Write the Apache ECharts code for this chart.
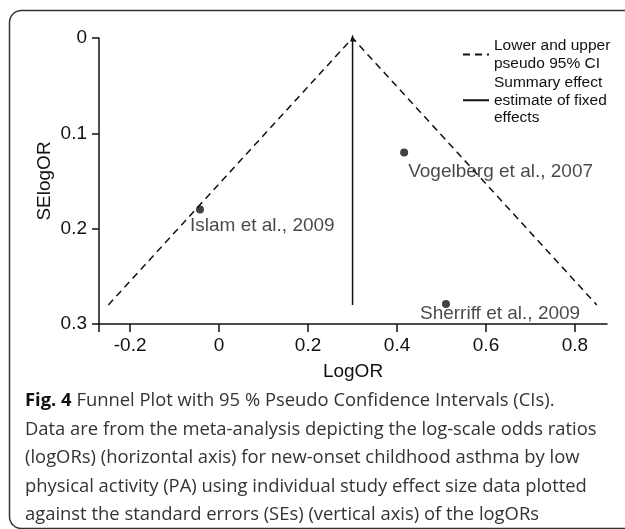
<!DOCTYPE html>
<html>
<head>
<meta charset="utf-8">
<script src="https://cdn.jsdelivr.net/npm/echarts@6/dist/echarts.min.js"></script>
<style>
    html, body { margin: 0; padding: 0; background: #fff; }
    #chart { width: 625px; height: 529px; }
</style>
</head>
<body>
<div id="chart"></div>
<script>
// 数据
const studies = ['Islam et al., 2009', 'Vogelberg et al., 2007', 'Sherriff et al., 2009']
const logOR = [-0.043, 0.416, 0.51]
const seLogOR = [0.18, 0.12, 0.279]
const summaryEffect = 0.3
const maxSE = 0.28
const ciLower = [-0.249, 0.3]   // [logOR at maxSE, logOR at apex]
const ciUpper = [0.849, 0.3]
const xMin = -0.27
const xMax = 0.872
const xTicks = [-0.2, 0, 0.2, 0.4, 0.6, 0.8]
const captionLines = [
    'Funnel Plot with 95 % Pseudo Confidence Intervals (CIs).',
    'Data are from the meta-analysis depicting the log-scale odds ratios',
    '(logORs) (horizontal axis) for new-onset childhood asthma by low',
    'physical activity (PA) using individual study effect size data plotted',
    'against the standard errors (SEs) (vertical axis) of the logORs'
]

// label offsets relative to the dot
const labelPos = [[-6, 20], [8, 23], [-22, 14]]

const ink = '#111'
const font = 'Liberation Sans, Arial, sans-serif'

let myChart = echarts.init(document.getElementById('chart'))

const option = {
    animation: false,
    grid: {
        left: 99,
        right: 18,
        top: 38,
        bottom: 205
    },
    legend: {
        orient: 'vertical',
        left: 457,
        top: 32,
        itemWidth: 26,
        itemHeight: 10,
        itemGap: 2,
        itemStyle: { opacity: 0 },
        textStyle: {
            fontFamily: font,
            fontSize: 15.5,
            lineHeight: 17.5,
            color: ink
        },
        data: ['Lower and upper\npseudo 95% CI', 'Summary effect\nestimate of fixed\neffects']
    },
    xAxis: {
        type: 'value',
        position: 'bottom',
        min: xMin,
        max: xMax,
        name: 'LogOR',
        nameLocation: 'middle',
        nameGap: 38,
        nameTextStyle: { fontFamily: font, fontSize: 19, color: ink },
        axisLine: { onZero: false, lineStyle: { color: ink, width: 1.5 } },
        axisTick: { length: 8, lineStyle: { color: ink, width: 1.5 }, customValues: [xMin].concat(xTicks) },
        axisLabel: {
            fontFamily: font, fontSize: 19, color: ink, margin: 12,
            customValues: xTicks
        },
        splitLine: { show: false }
    },
    yAxis: {
        type: 'value',
        position: 'left',
        inverse: true,
        min: 0,
        max: 0.3,
        interval: 0.1,
        name: 'SElogOR',
        nameLocation: 'middle',
        nameGap: 45,
        nameMoveOverlap: false,
        nameTextStyle: { fontFamily: font, fontSize: 19, color: ink },
        axisLine: { show: true, onZero: false, lineStyle: { color: ink, width: 1.5 } },
        axisTick: { show: true, length: 7, lineStyle: { color: ink, width: 1.5 } },
        axisLabel: { fontFamily: font, fontSize: 19, color: ink, margin: 12 },
        splitLine: { show: false }
    },
    series: [
        {
            name: 'Lower and upper\npseudo 95% CI',
            type: 'line',
            symbol: 'none',
            lineStyle: { color: ink, width: 1.5, type: [7, 5] },
            itemStyle: { color: ink },
            data: [[ciLower[0], maxSE], [ciLower[1], 0], [ciUpper[0], maxSE]]
        },
        {
            name: 'Summary effect\nestimate of fixed\neffects',
            type: 'line',
            symbol: 'none',
            lineStyle: { color: ink, width: 1.5 },
            itemStyle: { color: ink },
            data: [
                [summaryEffect, maxSE],
                { value: [summaryEffect, 0], symbol: 'triangle', symbolSize: [5, 7] }
            ]
        },
        {
            type: 'scatter',
            symbolSize: 8,
            itemStyle: { color: '#111' },
            label: {
                show: true,
                fontFamily: font,
                fontSize: 19,
                color: '#1a1a1a',
                align: 'left',
                verticalAlign: 'middle',
                formatter: p => studies[p.dataIndex]
            },
            data: logOR.map((x, i) => ({
                value: [x, seLogOR[i]],
                label: { position: labelPos[i] }
            }))
        }
    ],
    graphic: [
        {
            type: 'rect',
            shape: { x: 9.5, y: 10.5, width: 700, height: 518, r: 12 },
            style: { fill: 'none', stroke: '#333', lineWidth: 1.5 },
            silent: true
        },
        ...captionLines.map((line, i) => ({
            type: 'text',
            left: 25,
            top: 392 + i * 28.5,
            style: {
                text: i === 0 ? '{b|Fig. 4} ' + line : line,
                font: '18.4px "Open Sans", sans-serif',
                fill: '#333',
                rich: {
                    b: { fontFamily: 'Open Sans', fontSize: 18.4, fontWeight: 'bold', fill: '#111' }
                }
            }
        }))
    ]
}

myChart.setOption(option)
</script>
</body>
</html>
